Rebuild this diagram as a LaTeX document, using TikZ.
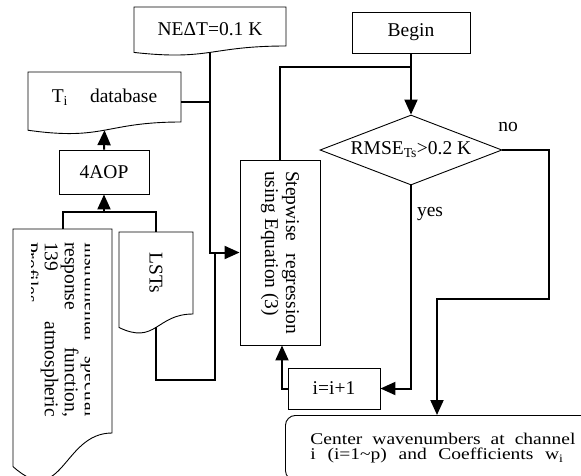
\documentclass[tikz,border=0pt]{standalone}
\usepackage{fontspec}
\setmainfont{Liberation Serif}
\usepackage{graphicx}
\usetikzlibrary{%
  arrows.meta,%
  shapes.geometric,% wg. diamond
  calc,%
  positioning%
}
% outline of a document shape, drawn from the anchors of its upper part
\newcommand\docline[1]{%
  \draw[line width=0.9pt] (#1.south west) -- (#1.north west) -- (#1.north east) -- (#1.south east)
    .. controls (#1.south) and ($(#1.south)!-0.3815!(#1.north)$) .. ($(#1.south west)!-0.1646!(#1.north west)$) -- cycle;
  \coordinate (#1-w) at ($(#1.south)!-0.1636!(#1.north)$);}

\begin{document}
\begin{tikzpicture}[x=1pt,y=-1pt,line width=2pt,
    >={Triangle[length=15pt,width=13pt]},
    font=\fontsize{19.5}{21}\selectfont,
    box/.style={draw,line width=0.9pt,inner sep=0pt},
    doc/.style={inner sep=0pt},
    cond/.style={diamond,draw,line width=0.9pt,aspect=2.6,inner sep=0pt}]
  \useasboundingbox (0,0) rectangle (581,475);
  \clip (0,0) rectangle (581,475);

    %inputs
    \node[doc, minimum width=150pt, minimum height=37pt, text height=19pt, anchor=north west] (nedt) at (134,7) {NEΔT=0.1 K};
    \node[doc, minimum width=151pt, minimum height=48pt, anchor=north west] (tidb) at (28,72) {T\textsubscript{i}\hspace{22pt}database};
    \node[box, minimum width=90pt, minimum height=44pt] (aop) at (104,172) {4AOP};
    \node[doc, minimum width=97pt, minimum height=202pt, anchor=north west] (prof) at (13,229) {};
    \node[doc, minimum width=72pt, minimum height=80pt, anchor=north west] (lsts) at (119,232) {\rotatebox{-90}{LSTs}};
    \docline{nedt}
    \docline{tidb}
    \docline{prof}
    \docline{lsts}
    \begin{scope}
      \clip (31,235) rectangle (89,470);
      \node[doc, anchor=north east] (proftxt) at (99.3,241) {\rotatebox{-90}{\parbox{175pt}{\fontsize{19.5}{20}\selectfont
        \makebox[175pt][s]{Instrumental spectral}\\
        \makebox[175pt][s]{response function,}\\
        \makebox[175pt][s]{139 atmospheric}\\
        Profiles}}};
    \end{scope}

    %regression loop
    \node[box, minimum width=80pt, minimum height=185pt] (step) at (280,252.5) {\rotatebox{-90}{\parbox{163pt}{
        \makebox[163pt][s]{Stepwise regression}\\
        using Equation (3)}}};
    \node[box, minimum width=118pt, minimum height=41pt] (begin) at (411,32.5) {Begin};
    \node[cond, minimum width=182pt, minimum height=70pt] (rmse) at (411,150) {RMSE\textsubscript{Ts}>0.2 K};
    \node[box, minimum width=92pt, minimum height=41pt] (inc) at (334,388.5) {i=i+1};
    \node[box, rounded corners=10pt, minimum width=315pt, minimum height=65pt, anchor=north west] (res) at (285,415)
      {\scalebox{1}[0.84]{\parbox{265pt}{\fontsize{19.5}{18}\selectfont
        \makebox[265pt][s]{Center wavenumbers at channel}\\
        \makebox[253pt][s]{i (i=1\textasciitilde p) and Coefficients w\textsubscript{i}}}}};

    \node (no) at (508,127) {no};
    \node (yes) at (430,214) {yes};

    %connectors
    \coordinate (jn) at (104,212);
    \coordinate (lo) at (215,380);
    \coordinate (nr) at (549,299);
    \coordinate (nl) at (437,299);
    \draw (prof.north) |- (jn) -| (lsts.north);
    \draw[->] (jn) -- (aop.south);
    \draw[->] (aop.north) -- (tidb-w);
    \draw[->] (nedt-w) |- (step.west);
    \draw ([yshift=-5pt]tidb.east) coordinate (t1) -- (t1 -| nedt-w);
    \draw (lsts-w) |- (lo) -- (lo |- step.west);
    \draw (step.north) |- ([yshift=-14pt]begin.south);
    \draw[->] (begin.south) -- (rmse.north);
    \draw[->] (rmse.south) |- (inc.east);
    \draw[->] (inc.west) -| ([xshift=2pt]step.south);
    \draw[->] (rmse.east) -| (nr) -- (nl) -- (nl |- res.north);

\end{tikzpicture}
\end{document}
